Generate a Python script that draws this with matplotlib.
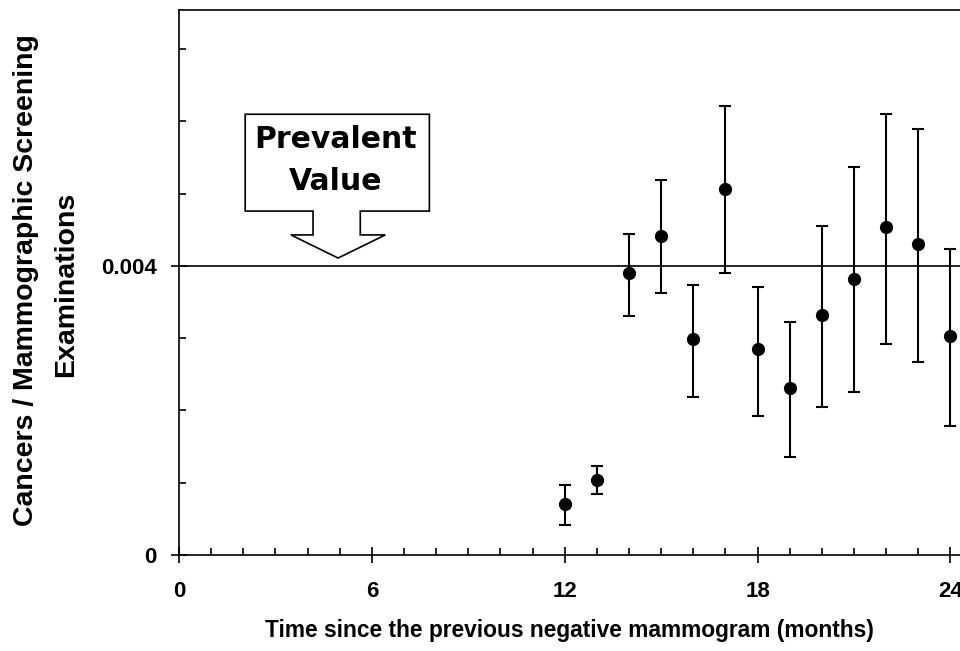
import numpy as np
import matplotlib.pyplot as plt
from matplotlib.patches import Polygon
from matplotlib.ticker import MultipleLocator, FixedLocator

plt.rcParams['font.family'] = ['Liberation Sans', 'DejaVu Sans']
plt.rcParams['font.weight'] = 'bold'

# months since previous negative mammogram
months = [12, 13, 14, 15, 16, 17, 18, 19, 20, 21, 22, 23, 24]
rate = [0.00071, 0.00104, 0.00390, 0.00441, 0.00299, 0.00507, 0.00285,
        0.00231, 0.00332, 0.00382, 0.00454, 0.00430, 0.00303]
err_hi = [0.00097, 0.00123, 0.00444, 0.00519, 0.00373, 0.00622, 0.00371,
          0.00322, 0.00456, 0.00537, 0.00611, 0.00590, 0.00423]
err_lo = [0.00041, 0.00084, 0.00331, 0.00362, 0.00219, 0.00390, 0.00193,
          0.00135, 0.00205, 0.00226, 0.00292, 0.00267, 0.00178]
prevalent = 0.004

x_major = [0, 6, 12, 18, 24]
y_major = [0, 0.004]
y_major_labels = ['0', '0.004']

rate = np.array(rate)
yerr = np.vstack([rate - np.array(err_lo), np.array(err_hi) - rate])

fig = plt.figure(figsize=(9.6, 6.51), dpi=100)
ax = fig.add_axes([179 / 960, 1 - 555 / 651, 1 - 179 / 960, (555 - 10) / 651])

ax.axhline(prevalent, color='black', lw=1.2, zorder=1)
ax.errorbar(months, rate, yerr=yerr, fmt='o', color='black', ms=8.5,
            elinewidth=1.5, capsize=4, capthick=1.5, zorder=3)

# callout box with arrow pointing at the prevalent value line
callout = [(2.06, 0.00610), (7.79, 0.00610), (7.79, 0.00476), (5.64, 0.00476),
           (5.64, 0.00443), (6.42, 0.00443), (4.95, 0.00411), (3.48, 0.00443),
           (4.17, 0.00443), (4.17, 0.00476), (2.06, 0.00476)]
ax.add_patch(Polygon(callout, closed=True, facecolor='white', edgecolor='black',
                     lw=1.2, zorder=4))
ax.text(4.86, 0.00563, 'Prevalent', ha='center', va='baseline', fontsize=21.5,
        fontweight='bold', family='DejaVu Sans', zorder=5)
ax.text(4.86, 0.00505, 'Value', ha='center', va='baseline', fontsize=21.5,
        fontweight='bold', family='DejaVu Sans', zorder=5)

ax.set_xlim(0, 24.3)
ax.set_ylim(0, 0.007543)
ax.spines['right'].set_visible(False)
for s in ax.spines.values():
    s.set_linewidth(1.2)

ax.xaxis.set_major_locator(FixedLocator(x_major))
ax.xaxis.set_minor_locator(MultipleLocator(1))
ax.yaxis.set_major_locator(FixedLocator(y_major))
ax.yaxis.set_minor_locator(MultipleLocator(0.001))
ax.set_yticklabels(y_major_labels)
ax.tick_params(axis='both', which='major', direction='inout', length=12,
               width=1.2, labelsize=16)
ax.tick_params(axis='both', which='minor', direction='in', length=5, width=1.2)
ax.tick_params(axis='x', which='major', pad=13)
ax.tick_params(axis='y', which='major', pad=10)
for lab in ax.get_xticklabels() + ax.get_yticklabels():
    lab.set_fontweight('bold')

ax.set_xlabel('Time since the previous negative mammogram (months)',
              fontsize=16.4, fontweight='bold', labelpad=12)
fig.text(33 / 960, 1 - 280 / 651, 'Cancers / Mammographic Screening',
         rotation=90, rotation_mode='anchor', ha='center', va='baseline',
         fontsize=20.5, fontweight='bold')
fig.text(73 / 960, 1 - 284 / 651, 'Examinations',
         rotation=90, rotation_mode='anchor', ha='center', va='baseline',
         fontsize=20.5, fontweight='bold')

fig.savefig('out.png', dpi=100)
